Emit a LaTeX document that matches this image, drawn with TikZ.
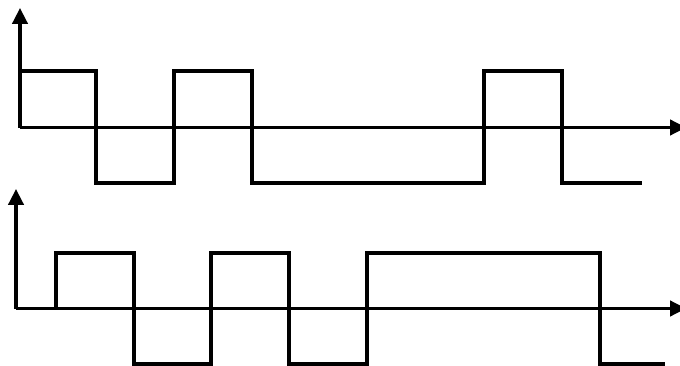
\documentclass[tikz,border=0pt]{standalone}
\usetikzlibrary{arrows.meta}
\begin{document}
\begin{tikzpicture}[x=0.75pt,y=-0.75pt,
  axis/.style={line width=2.5pt,-{Triangle[length=12pt,width=11.5pt]}},
  wave/.style={line width=2.5pt,line join=miter}]
\useasboundingbox (0,0) rectangle (680,366);
% top signal
\draw[axis] (20,128) -- (20,8);
\draw[axis] (20,127.5) -- (686,127.5);
\draw[wave] (20,71) -- (96,71) -- (96,183) -- (174,183) -- (174,71) -- (252,71) -- (252,183)
  -- (484,183) -- (484,71) -- (562,71) -- (562,183) -- (642,183);
% bottom signal
\draw[axis] (16,309) -- (16,189);
\draw[axis] (16,308.5) -- (686,308.5);
\draw[wave] (56,308.5) -- (56,253) -- (134,253) -- (134,364) -- (211,364) -- (211,253) -- (289,253)
  -- (289,364) -- (367,364) -- (367,253) -- (600,253) -- (600,364) -- (665,364);
\end{tikzpicture}
\end{document}
